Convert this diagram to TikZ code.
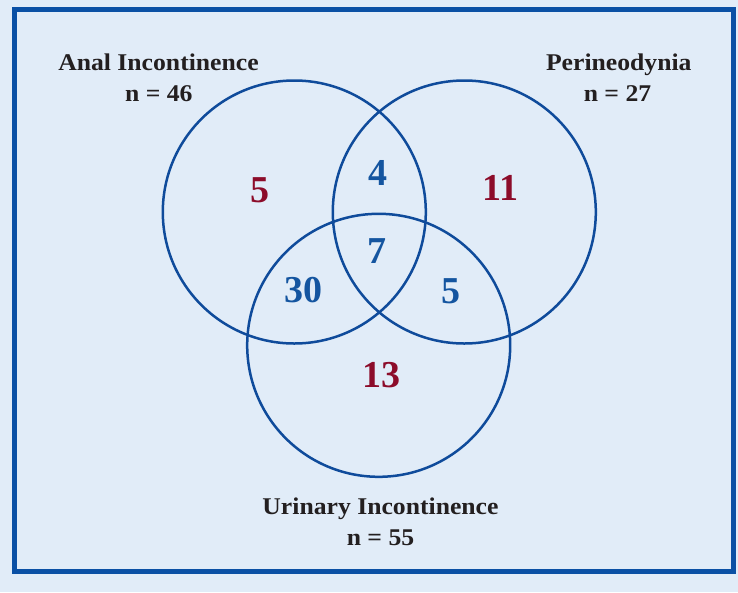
\documentclass[tikz,border=0pt]{standalone}
\usepackage{fontspec}
\setmainfont{Liberation Serif}
\newfontfamily\labfont{Liberation Serif}[FakeStretch=1.07]
\definecolor{bgc}{RGB}{225,236,248}
\definecolor{framec}{RGB}{10,80,165}
\definecolor{circc}{RGB}{15,75,155}
\definecolor{numblue}{RGB}{20,85,160}
\definecolor{numred}{RGB}{140,12,42}
\definecolor{txtc}{RGB}{35,31,32}
\begin{document}
\begin{tikzpicture}[x=1pt,y=-1pt,
  vcirc/.style={circle, draw=circc, line width=2.5pt, minimum size=263pt, inner sep=0pt},
  lab/.style={anchor=base, text=txtc, font=\labfont\fontsize{24}{28}\selectfont\bfseries, inner sep=0pt},
  bnum/.style={anchor=base, text=numblue, font=\fontsize{38}{42}\selectfont\bfseries, inner sep=0pt},
  rnum/.style={anchor=base, text=numred, font=\fontsize{38}{42}\selectfont\bfseries, inner sep=0pt}]
\fill[bgc] (0,0) rectangle (738,592);
\useasboundingbox (0,0) rectangle (738,592);
\draw[framec, line width=4.8pt] (14.8,9.5) rectangle (733.5,571.8);
\node[vcirc] (A) at (294.3,212) {};
\node[vcirc] (P) at (464.3,212) {};
\node[vcirc] (U) at (378.7,345.3) {};
\node[lab] (al) at (158.5,70) {Anal Incontinence};
\node[lab] (an) at (158.8,101.5) {n = 46};
\node[lab] (pl) at (618.8,70) {Perineodynia};
\node[lab] (pn) at (617.5,101.5) {n = 27};
\node[lab] (ul) at (380.5,514) {Urinary Incontinence};
\node[lab] (un) at (380.5,545) {n = 55};
\node[rnum] (a) at (260,202.5) {5};
\node[bnum] (ap) at (378,185) {4};
\node[rnum] (p) at (500.5,200) {11};
\node[bnum] (apu) at (376.5,263) {7};
\node[bnum] (au) at (303.5,302.5) {30};
\node[bnum] (pu) at (451,303) {5};
\node[rnum] (u) at (381,387) {13};
\end{tikzpicture}
\end{document}
